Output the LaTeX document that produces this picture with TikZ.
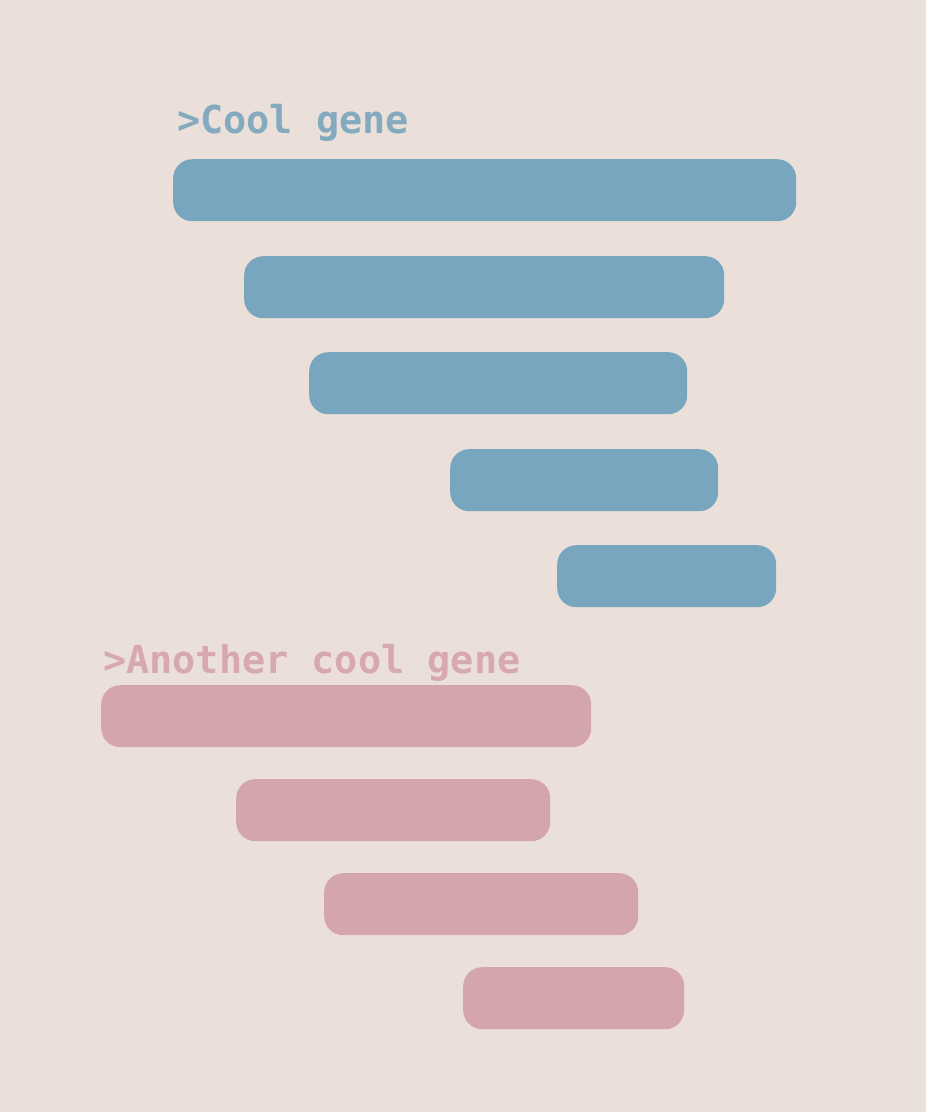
\documentclass[tikz,border=0pt]{standalone}
\usepackage{fontspec}
\setmonofont{DejaVu Sans Mono}
\definecolor{bg}{HTML}{EAE0D9}
\definecolor{bluebar}{HTML}{77A6BE}
\definecolor{bluetxt}{HTML}{84AABF}
\definecolor{pinkbar}{HTML}{D4A5AD}
\definecolor{pinktxt}{HTML}{D8A8B0}
\tikzset{
  bar/.style={rounded corners=19pt, inner sep=0pt, anchor=north west, minimum height=62pt},
  bluebox/.style={bar, fill=bluebar},
  pinkbox/.style={bar, fill=pinkbar},
  title/.style={anchor=base west, inner sep=0pt, font=\ttfamily\bfseries\fontsize{38.5pt}{40pt}\selectfont}
}
\begin{document}
\begin{tikzpicture}[x=1pt,y=-1pt]
\fill[bg] (0,0) rectangle (926,1112);
\useasboundingbox (0,0) rectangle (926,1112);
\node[title, text=bluetxt] (t1) at (177,133) {>Cool gene};
\node[bluebox, minimum width=623pt] (b1) at (173,159) {};
\node[bluebox, minimum width=480pt] (b2) at (244,256) {};
\node[bluebox, minimum width=378pt] (b3) at (309,352) {};
\node[bluebox, minimum width=268pt] (b4) at (450,449) {};
\node[bluebox, minimum width=219pt] (b5) at (557,545) {};
\node[title, text=pinktxt] (t2) at (103,673) {>Another cool gene};
\node[pinkbox, minimum width=490pt] (p1) at (101,685) {};
\node[pinkbox, minimum width=314pt] (p2) at (236,779) {};
\node[pinkbox, minimum width=314pt] (p3) at (324,873) {};
\node[pinkbox, minimum width=221pt] (p4) at (463,967) {};
\end{tikzpicture}
\end{document}
